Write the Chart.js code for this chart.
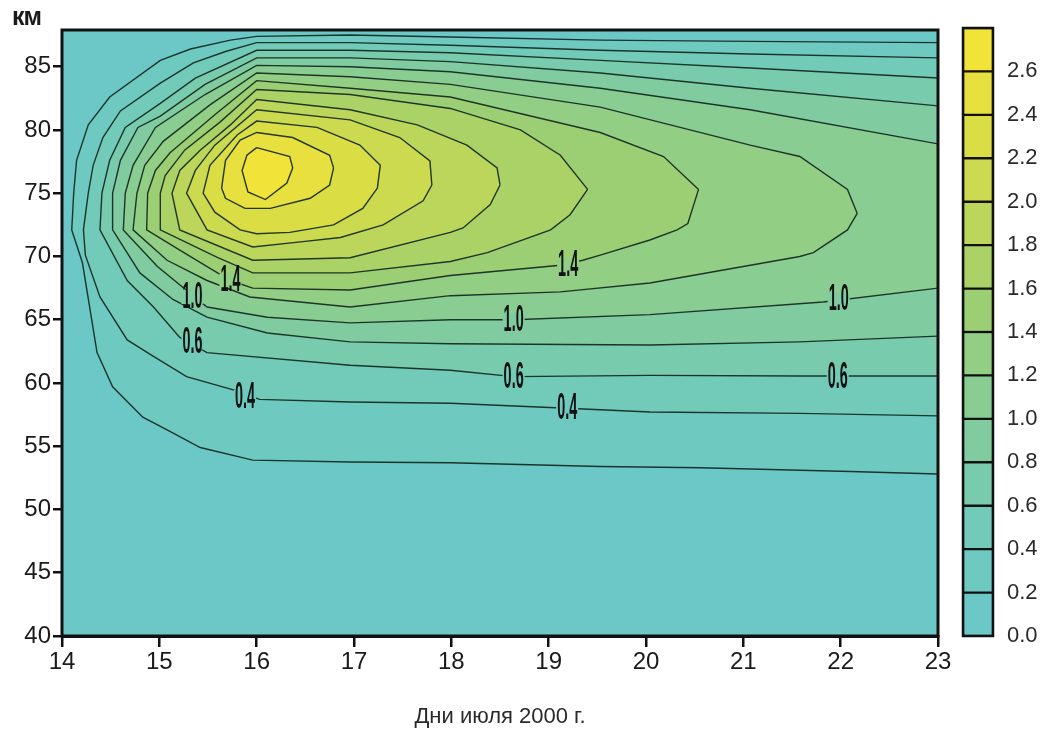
<!DOCTYPE html>
<html><head><meta charset="utf-8">
<script src="https://cdn.jsdelivr.net/npm/chart.js@4.4.1/dist/chart.umd.min.js"></script>
<style>
html,body{margin:0;padding:0;background:#fff;width:1045px;height:736px;overflow:hidden;}
#main{position:absolute;left:0;top:0;}
#bar{position:absolute;left:950px;top:0;}
#km{position:absolute;left:12px;top:2px;font:bold 25px 'Liberation Sans',Arial,sans-serif;color:#1a1a1a;letter-spacing:-1px;}
</style></head><body>
<canvas id="main" width="1045" height="736"></canvas>
<canvas id="bar" width="95" height="736"></canvas>
<div id="km">км</div>
<script>
// ---- axis ticks ----
const xTicks = [14,15,16,17,18,19,20,21,22,23];
const yTicks = [40,45,50,55,60,65,70,75,80,85];
const barTicks = [0.0,0.2,0.4,0.6,0.8,1.0,1.2,1.4,1.6,1.8,2.0,2.2,2.4,2.6];
const levels = [0.2,0.4,0.6,0.8,1.0,1.2,1.4,1.6,1.8,2.0,2.2,2.4,2.6];
const bandColors = ['#6cc8c7','#6ec9c0','#72cab8','#78cbad','#80cca0','#89cd92','#92ce83','#9ccf74','#abd267','#bcd65b','#ccda4f','#dbdd45','#e7e03e','#f1e338'];

// ---- contour lines: [day, km] ----
const c02 = [[23,52.8],[22.1,53.0],[20.56,53.3],[19.53,53.4],[17.99,53.7],[16.96,53.75],[15.96,53.9],[15.42,54.9],[15.08,56.3],[14.83,57.3],[14.52,59.7],[14.36,62.4],[14.21,69.5],[14.1,72.1],[14.12,75.0],[14.15,77.6],[14.27,80.4],[14.49,82.6],[15.01,85.5],[15.32,86.4],[15.73,87.1],[16.0,87.4],[16.96,87.5],[17.99,87.35],[19.53,87.1],[21.07,87.0],[23,86.9]];
const c04 = [[23,57.4],[21.58,57.6],[20.04,57.7],[19.19,58.0],[17.99,58.4],[16.96,58.5],[16.03,58.7],[15.76,59.45],[15.28,60.5],[14.94,62.1],[14.67,63.4],[14.39,66.8],[14.24,70.1],[14.22,72.1],[14.27,75.0],[14.32,77.2],[14.42,79.4],[14.6,81.5],[15.01,83.7],[15.35,85.3],[15.68,86.2],[16.0,86.9],[16.96,86.9],[17.99,86.7],[19.53,86.3],[21.07,86.0],[23,85.7]];
const c06 = [[23,60.55],[21.58,60.55],[20.04,60.6],[18.64,60.5],[17.99,61.0],[16.96,61.4],[15.49,62.4],[15.21,63.6],[14.94,66.0],[14.67,68.1],[14.39,72.1],[14.41,75.0],[14.49,77.6],[14.65,80.2],[15.01,82.1],[15.37,84.1],[16.0,86.3],[16.96,86.3],[17.99,86.1],[19.53,85.5],[21.07,84.9],[23,84.1]];
const c08 = [[23,63.7],[21.58,63.25],[20.04,63.0],[17.99,63.1],[16.96,63.25],[16.11,63.95],[15.49,65.2],[15.14,66.6],[14.8,68.7],[14.52,72.1],[14.52,75.0],[14.6,77.6],[14.78,80.2],[15.01,81.1],[15.47,83.6],[16.0,85.7],[16.96,85.7],[17.99,85.4],[19.53,84.5],[21.07,83.3],[23,81.9]];
const c10 = [[23,67.5],[21.82,66.4],[20.04,65.4],[18.64,65.0],[17.99,65.0],[16.96,64.75],[16.11,65.2],[15.49,66.0],[14.98,69.2],[14.63,72.1],[14.65,75.0],[14.73,77.2],[14.96,80.2],[15.47,82.8],[16.0,85.1],[16.96,85.0],[17.99,84.6],[19.53,83.3],[21.07,81.6],[23,78.9]];
const c12 = [[22.17,73.4],[22.07,72.1],[21.72,70.3],[21.58,70.0],[20.04,67.9],[19.12,67.2],[17.99,66.9],[16.96,66.0],[15.93,66.8],[15.49,68.1],[15.08,69.7],[14.73,72.1],[14.77,75.0],[14.85,77.2],[15.04,79.1],[15.52,81.98],[16.0,84.5],[16.96,84.2],[17.99,83.6],[19.53,81.8],[21.07,78.8],[21.58,77.9],[22.07,75.3],[22.17,73.4]];
const c14 = [[20.54,75.3],[20.43,72.6],[20.32,72.1],[20.04,71.3],[19.53,70.1],[19.35,69.7],[19.12,69.3],[17.99,68.5],[16.96,67.35],[15.96,67.5],[15.73,68.1],[15.21,70.5],[14.87,72.1],[14.88,75.0],[14.96,76.8],[15.11,78.2],[15.57,81.2],[16.0,83.9],[16.96,83.3],[17.99,82.6],[19.53,79.8],[20.18,77.9],[20.54,75.3]];
const c16 = [[19.4,75.3],[19.22,73.3],[19.02,72.1],[18.37,70.3],[17.99,69.6],[16.96,68.7],[15.96,68.7],[15.59,69.95],[15.01,72.1],[15.01,75.0],[15.06,76.4],[15.26,78.4],[15.62,80.6],[16.0,83.2],[16.96,82.8],[17.99,81.7],[18.71,80.0],[19.12,78.0],[19.4,75.3]];
const c18 = [[18.5,75.65],[18.4,74.1],[18.12,72.25],[17.99,71.9],[16.96,69.9],[15.96,69.7],[15.21,72.1],[15.13,75.0],[15.21,76.8],[15.42,78.4],[15.73,80.4],[16.0,82.4],[16.96,81.6],[17.65,80.4],[18.16,78.8],[18.47,77.0],[18.5,75.65]];
const c20 = [[17.8,75.65],[17.71,74.4],[17.3,72.5],[16.86,71.5],[16.45,71.15],[15.96,70.75],[15.49,72.1],[15.28,75.0],[15.37,76.8],[15.57,78.8],[16.0,81.6],[16.96,80.8],[17.47,79.4],[17.78,77.55],[17.8,75.65]];
const c22 = [[17.24,75.4],[17.09,73.8],[16.79,72.5],[16.34,71.9],[16.0,71.8],[15.83,72.1],[15.57,73.5],[15.45,75.0],[15.52,77.2],[15.8,79.6],[16.0,80.7],[16.62,80.2],[17.06,78.8],[17.27,77.2],[17.24,75.4]];
const c24 = [[16.79,77.0],[16.75,75.65],[16.55,74.6],[16.14,73.8],[15.88,73.8],[15.68,74.6],[15.64,75.4],[15.68,77.6],[15.83,79.2],[16.0,79.8],[16.37,79.4],[16.75,78.0],[16.79,77.0]];
const c26 = [[16.0,78.6],[16.34,77.9],[16.37,77.0],[16.31,75.8],[16.09,74.5],[15.91,75.1],[15.85,76.8],[15.9,78.0],[16.0,78.6]];
const contours = [c02,c04,c06,c08,c10,c12,c14,c16,c18,c20,c22,c24,c26];

// ---- contour labels ----
const labelTexts = ['1.4','1.0','0.6','0.4','1.4','1.0','0.6','0.4','1.0','0.6'];
const labelDays  = [15.73,15.34,15.34,15.88,19.2,18.64,18.64,19.19,21.98,21.97];
const labelKms   = [68.1,66.8,63.2,58.9,69.3,65.0,60.5,58.0,66.6,60.5];
const labelLevelIdx = [6,4,2,1,6,4,2,1,4,2];

Chart.defaults.font.family = "'Liberation Sans', Arial, sans-serif";
Chart.defaults.animation = false;

const fillPlugin = {
  id: 'contourFill',
  beforeDatasetsDraw(chart) {
    const {ctx, chartArea: a, scales: {x, y}} = chart;
    ctx.save();
    ctx.beginPath(); ctx.rect(a.left, a.top, a.right - a.left, a.bottom - a.top); ctx.clip();
    ctx.fillStyle = bandColors[0];
    ctx.fillRect(a.left, a.top, a.right - a.left, a.bottom - a.top);
    contours.forEach((c, i) => {
      ctx.beginPath();
      c.forEach((p, j) => {
        const px = x.getPixelForValue(p[0]), py = y.getPixelForValue(p[1]);
        if (j === 0) ctx.moveTo(px, py); else ctx.lineTo(px, py);
      });
      ctx.closePath();
      ctx.fillStyle = bandColors[i + 1];
      ctx.fill();
    });
    ctx.restore();
  },
  afterDatasetsDraw(chart) {
    const {ctx, chartArea: a, scales: {x, y}} = chart;
    ctx.save();
    labelTexts.forEach((t, i) => {
      const px = x.getPixelForValue(labelDays[i]), py = y.getPixelForValue(labelKms[i]);
      const li = labelLevelIdx[i];
      ctx.fillStyle = bandColors[li];
      ctx.fillRect(px - 11, py - 7, 22, 14);
      ctx.save();
      ctx.translate(px, py);
      ctx.scale(0.8, 2.0);
      ctx.font = "bold 18px 'Liberation Sans', Arial, sans-serif";
      ctx.fillStyle = '#111';
      ctx.textAlign = 'center';
      ctx.textBaseline = 'middle';
      ctx.fillText(t, 0, 0.5);
      ctx.restore();
    });
    ctx.strokeStyle = '#111';
    ctx.lineWidth = 3;
    ctx.strokeRect(a.left, a.top, a.right - a.left, a.bottom - a.top);
    ctx.restore();
  }
};

new Chart(document.getElementById('main'), {
  type: 'scatter',
  data: {
    datasets: contours.map((c, i) => ({
      label: levels[i].toFixed(1),
      data: c.map(p => ({x: p[0], y: p[1]})),
      showLine: true,
      pointRadius: 0,
      borderColor: 'rgba(20,40,30,0.92)',
      borderWidth: 1.4,
      fill: false,
      tension: 0
    }))
  },
  options: {
    responsive: false,
    devicePixelRatio: 1,
    layout: {padding: {left: 0, right: 107, top: 30, bottom: 0}},
    plugins: {legend: {display: false}, tooltip: {enabled: false}},
    scales: {
      x: {
        type: 'linear', min: 14, max: 23,
        afterBuildTicks: s => { s.ticks = xTicks.map(v => ({value: v})); },
        afterFit: s => { s.height = 100; },
        ticks: {font: {size: 24}, color: '#1a1a1a', padding: 1, maxRotation: 0, autoSkip: false},
        grid: {display: true, drawOnChartArea: false, drawTicks: true, tickLength: 11, color: '#111', lineWidth: 2.5},
        border: {display: true, color: '#111', width: 3},
        title: {display: true, text: 'Дни июля 2000 г.', font: {size: 22}, color: '#2a2a2a', padding: {top: 4, bottom: 6}}
      },
      y: {
        type: 'linear', min: 40, max: 87.9,
        afterBuildTicks: s => { s.ticks = yTicks.map(v => ({value: v})); },
        afterFit: s => { s.width = 62; },
        ticks: {font: {size: 24}, color: '#1a1a1a', padding: 2, autoSkip: false},
        grid: {display: true, drawOnChartArea: false, drawTicks: true, tickLength: 9, color: '#111', lineWidth: 2.5},
        border: {display: true, color: '#111', width: 3}
      }
    }
  },
  plugins: [fillPlugin]
});

const barFrame = {
  id: 'barFrame',
  afterDatasetsDraw(chart) {
    const {ctx, chartArea: a} = chart;
    ctx.save();
    ctx.strokeStyle = '#111';
    ctx.lineWidth = 2.5;
    ctx.strokeRect(a.left, a.top, a.right - a.left, a.bottom - a.top);
    ctx.restore();
  }
};

new Chart(document.getElementById('bar'), {
  type: 'bar',
  data: {
    labels: ['scale'],
    datasets: bandColors.map((col, i) => ({
      label: barTicks[i].toFixed(1),
      data: [0.2],
      backgroundColor: col,
      borderColor: '#111',
      borderWidth: 1.5,
      borderSkipped: false,
      barPercentage: 1,
      categoryPercentage: 1
    }))
  },
  options: {
    responsive: false,
    devicePixelRatio: 1,
    layout: {padding: {left: 13, right: 0, top: 28, bottom: 100}},
    plugins: {legend: {display: false}, tooltip: {enabled: false}},
    scales: {
      x: {display: false, stacked: true},
      y: {
        stacked: true, position: 'right', min: 0, max: 2.8,
        afterBuildTicks: s => { s.ticks = barTicks.map(v => ({value: v})); },
        afterFit: s => { s.width = 52; },
        ticks: {font: {size: 22}, color: '#2a2a2a', padding: 6, autoSkip: false, callback: v => Number(v).toFixed(1)},
        grid: {display: false},
        border: {display: false}
      }
    }
  },
  plugins: [barFrame]
});
</script>
</body></html>
